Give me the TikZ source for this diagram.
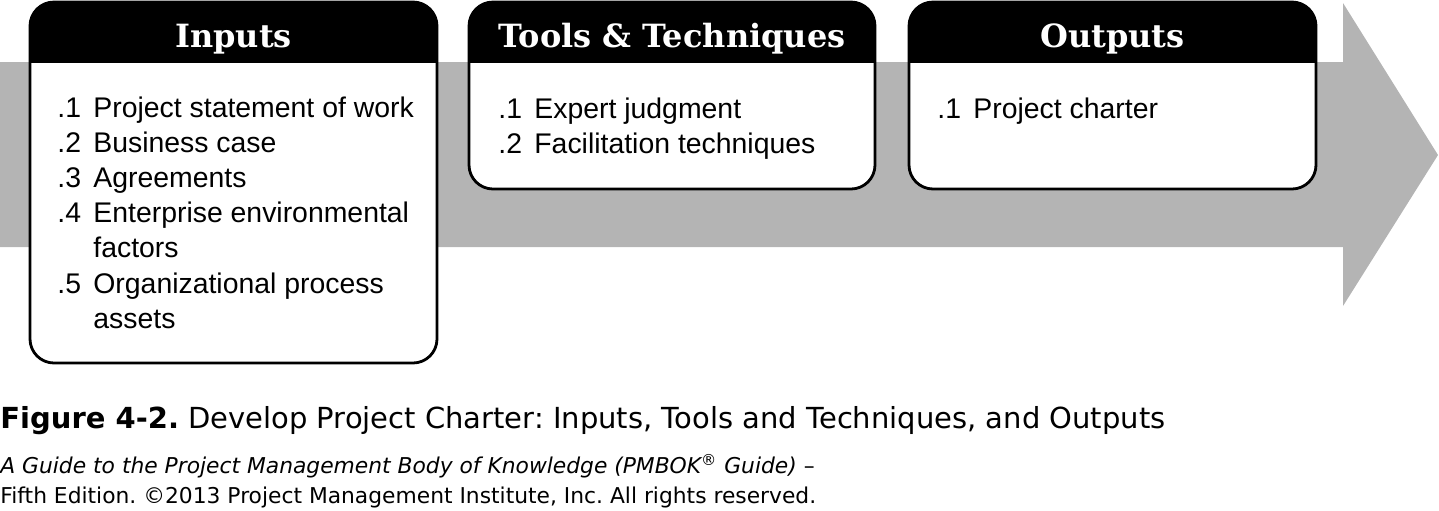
\documentclass[tikz,border=0pt]{standalone}
\usepackage{fontspec}
\setmainfont{Liberation Sans}
\newfontfamily\headfont{DejaVu Serif}
\newfontfamily\capfont{DejaVu Sans}
\usetikzlibrary{positioning}
\definecolor{arrowgray}{RGB}{180,180,180}
\frenchspacing

\begin{document}
\begin{tikzpicture}[x=0.5pt,y=-0.5pt,
		panel/.style={draw,line width=1.4pt,fill=white,rounded corners=12pt,
			inner sep=0pt,outer sep=0pt,anchor=north west},
		heading/.style={text=white,anchor=base,
			font=\headfont\bfseries\fontsize{16pt}{19pt}\selectfont},
		items/.style={inner sep=0pt,anchor=base west,
			font=\fontsize{14.2pt}{17.6pt}\selectfont},
		credit/.style={inner sep=0pt,anchor=base west}]
	\useasboundingbox (0,0) rectangle (1439,510);
	% flow arrow behind the boxes
	\fill[arrowgray] (0,62) -- (1343,62) -- (1343,3) -- (1438,155)
		-- (1343,306) -- (1343,247) -- (0,247) -- cycle;
	\node[panel,minimum width=203.5pt,minimum height=180.5pt] (inputs) at (30,2) {};
	\node[panel,minimum width=203pt,minimum height=93.5pt] (tools) at (469,2) {};
	\node[panel,minimum width=203.5pt,minimum height=93.5pt] (outputs) at (909,2) {};
	\foreach \panelname in {inputs,tools,outputs}{
		\begin{scope}
			\clip[rounded corners=12pt] (\panelname.north west) rectangle (\panelname.south east);
			\fill ([yshift=1pt]\panelname.north west) rectangle ([yshift=-30.5pt]\panelname.north east);
		\end{scope}
	}
	\node[heading] (inputs-title) at ([yshift=-22.5pt]inputs.north) {Inputs};
	\node[heading] (tools-title) at ([yshift=-22.5pt]tools.north) {Tools \& Techniques};
	\node[heading] (outputs-title) at ([yshift=-22.5pt]outputs.north) {Outputs};
	\node[items] (inputs-list) at (57,117) {\begin{tabular}[t]{@{}p{18pt}@{}l@{}}
			.1 & Project statement of work\\
			.2 & Business case\\
			.3 & Agreements\\
			.4 & Enterprise environmental\\
			   & factors\\
			.5 & Organizational process\\
			   & assets
		\end{tabular}};
	\node[items] (tools-list) at (498,118) {\begin{tabular}[t]{@{}p{18pt}@{}l@{}}
			.1 & Expert judgment\\
			.2 & Facilitation techniques
		\end{tabular}};
	\node[items] (outputs-list) at (937,118) {\begin{tabular}[t]{@{}p{18pt}@{}l@{}}
			.1 & Project charter
		\end{tabular}};
	% caption and source
	\node[credit,font=\capfont\fontsize{14.5pt}{17pt}\selectfont] (caption) at (0,428)
		{\textbf{Figure 4-2.} Develop Project Charter: Inputs, Tools and Techniques, and Outputs};
	\node[credit,font=\capfont\fontsize{10.9pt}{13pt}\selectfont] (source-a) at (0,473)
		{\textit{A Guide to the Project Management Body of Knowledge (PMBOK\textsuperscript{®} Guide)} –};
	\node[credit,font=\capfont\fontsize{10.9pt}{13pt}\selectfont] (source-b) at (0,503)
		{Fifth Edition. ©2013 Project Management Institute, Inc. All rights reserved.};
\end{tikzpicture}
\end{document}
